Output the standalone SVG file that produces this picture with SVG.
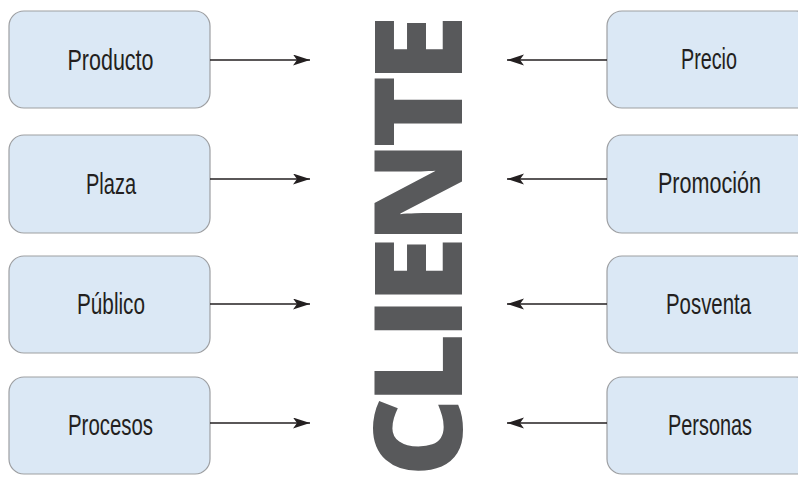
<svg xmlns="http://www.w3.org/2000/svg" width="798" height="478" viewBox="0 0 798 478">
  <style>
    .box { fill: #dbe8f5; stroke: #9d9fa2; stroke-width: 1.2; }
    .label { font-family: "Liberation Sans", Arial, sans-serif; font-size: 29px; fill: #231f20; text-anchor: middle; }
    .link { stroke: #231f20; stroke-width: 1.3; fill: none; marker-end: url(#head); }
    .title { font-family: "Open Sans", "Liberation Sans", sans-serif; font-weight: 800; font-size: 123px; fill: #58595b; }
  </style>
  <defs>
    <marker id="head" markerUnits="userSpaceOnUse" markerWidth="18" markerHeight="12" refX="17" refY="5.5" orient="auto">
      <path d="M0,0 L17,5.5 L0,11 L4,5.5 z" fill="#231f20"/>
    </marker>
  </defs>

  <rect width="798" height="478" fill="#ffffff"/>

  <!-- left column -->
  <g id="producto">
    <rect class="box" x="9" y="11" width="201" height="97" rx="15"/>
    <text class="label" x="110.5" y="70" textLength="86" lengthAdjust="spacingAndGlyphs">Producto</text>
  </g>
  <g id="plaza">
    <rect class="box" x="9" y="135" width="201" height="98" rx="15"/>
    <text class="label" x="111" y="194" textLength="50" lengthAdjust="spacingAndGlyphs">Plaza</text>
  </g>
  <g id="publico">
    <rect class="box" x="9" y="256" width="201" height="97" rx="15"/>
    <text class="label" x="111" y="314" textLength="68" lengthAdjust="spacingAndGlyphs">Público</text>
  </g>
  <g id="procesos">
    <rect class="box" x="9" y="377" width="201" height="97" rx="15"/>
    <text class="label" x="110.5" y="435" textLength="85" lengthAdjust="spacingAndGlyphs">Procesos</text>
  </g>

  <!-- right column -->
  <g id="precio">
    <rect class="box" x="607" y="11" width="204" height="97" rx="15"/>
    <text class="label" x="709" y="69" textLength="56" lengthAdjust="spacingAndGlyphs">Precio</text>
  </g>
  <g id="promocion">
    <rect class="box" x="607" y="135" width="204" height="98" rx="15"/>
    <text class="label" x="709.5" y="193" textLength="103" lengthAdjust="spacingAndGlyphs">Promoción</text>
  </g>
  <g id="posventa">
    <rect class="box" x="607" y="256" width="204" height="97" rx="15"/>
    <text class="label" x="708.5" y="314" textLength="85" lengthAdjust="spacingAndGlyphs">Posventa</text>
  </g>
  <g id="personas">
    <rect class="box" x="607" y="377" width="204" height="97" rx="15"/>
    <text class="label" x="710" y="435" textLength="84" lengthAdjust="spacingAndGlyphs">Personas</text>
  </g>

  <!-- central word, read bottom to top -->
  <g id="cliente">
    <text class="title" transform="translate(462,477) rotate(-90)" x="0" y="0" textLength="462" lengthAdjust="spacing">CLIENTE</text>
  </g>

  <!-- connectors -->
  <g id="connectors">
    <line class="link" x1="210" y1="60" x2="310" y2="60"/>
    <line class="link" x1="210" y1="179" x2="310" y2="179"/>
    <line class="link" x1="210" y1="304" x2="310" y2="304"/>
    <line class="link" x1="210" y1="423" x2="310" y2="423"/>
    <line class="link" x1="607" y1="60" x2="507" y2="60"/>
    <line class="link" x1="607" y1="179" x2="507" y2="179"/>
    <line class="link" x1="607" y1="304" x2="507" y2="304"/>
    <line class="link" x1="607" y1="423" x2="507" y2="423"/>
  </g>
</svg>
